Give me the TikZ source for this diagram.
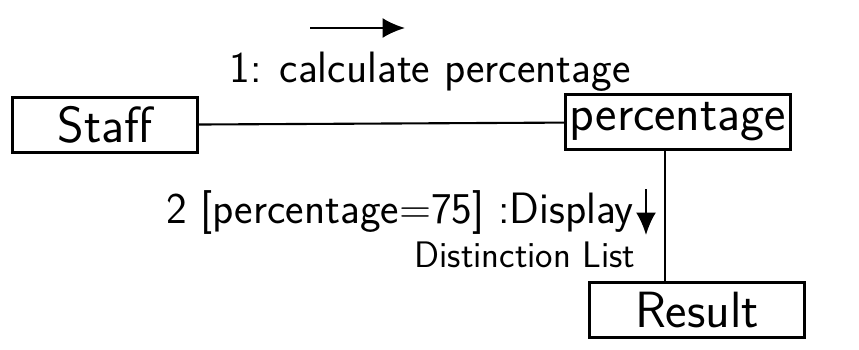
\documentclass[tikz,border=0pt]{standalone}
\usepackage{tikz}
\usetikzlibrary{arrows.meta, positioning}

\begin{document}
\begin{tikzpicture}[>={Latex[length=4.5mm,width=4mm]}, line width=1.2pt]
    \tikzstyle{obj} = [rectangle, draw=black, minimum height=1.1cm, text centered, inner sep=1pt, font=\sffamily\fontsize{29}{32}\selectfont]
    \tikzstyle{msg} = [font=\sffamily\fontsize{25}{28}\selectfont]
    \tikzstyle{note} = [font=\sffamily\fontsize{21}{24}\selectfont]

    \useasboundingbox (0,0) rectangle (17.18,6.98);

    \node [obj, minimum width=3.7cm] (staff) at (2.1,4.48) {Staff};
    \node [obj, minimum width=4.5cm] (perc) at (13.56,4.54) {percentage};
    \node [obj, minimum width=4.3cm] (result) at (13.94,0.78) {Result};

    \draw (staff) -- (perc);
    \coordinate (link) at ([xshift=-0.26cm]perc.south);
    \draw (link) -- (link |- result.north);

    % message 1
    \coordinate (m1a) at (6.2,6.42);
    \coordinate (m1b) at (8.1,6.42);
    \draw [->] (m1a) -- (m1b);
    \node [msg] (m1) at (8.6,5.54) {1: calculate percentage};

    % message 2
    \coordinate (m2a) at (12.92,3.2);
    \coordinate (m2b) at (12.92,2.28);
    \draw [->] (m2a) -- (m2b);
    \node [msg] (m2) at (8.0,2.72) {2 [percentage=75] :Display};
    \node [note] (m2n) at (10.5,1.88) {Distinction List};
\end{tikzpicture}
\end{document}
